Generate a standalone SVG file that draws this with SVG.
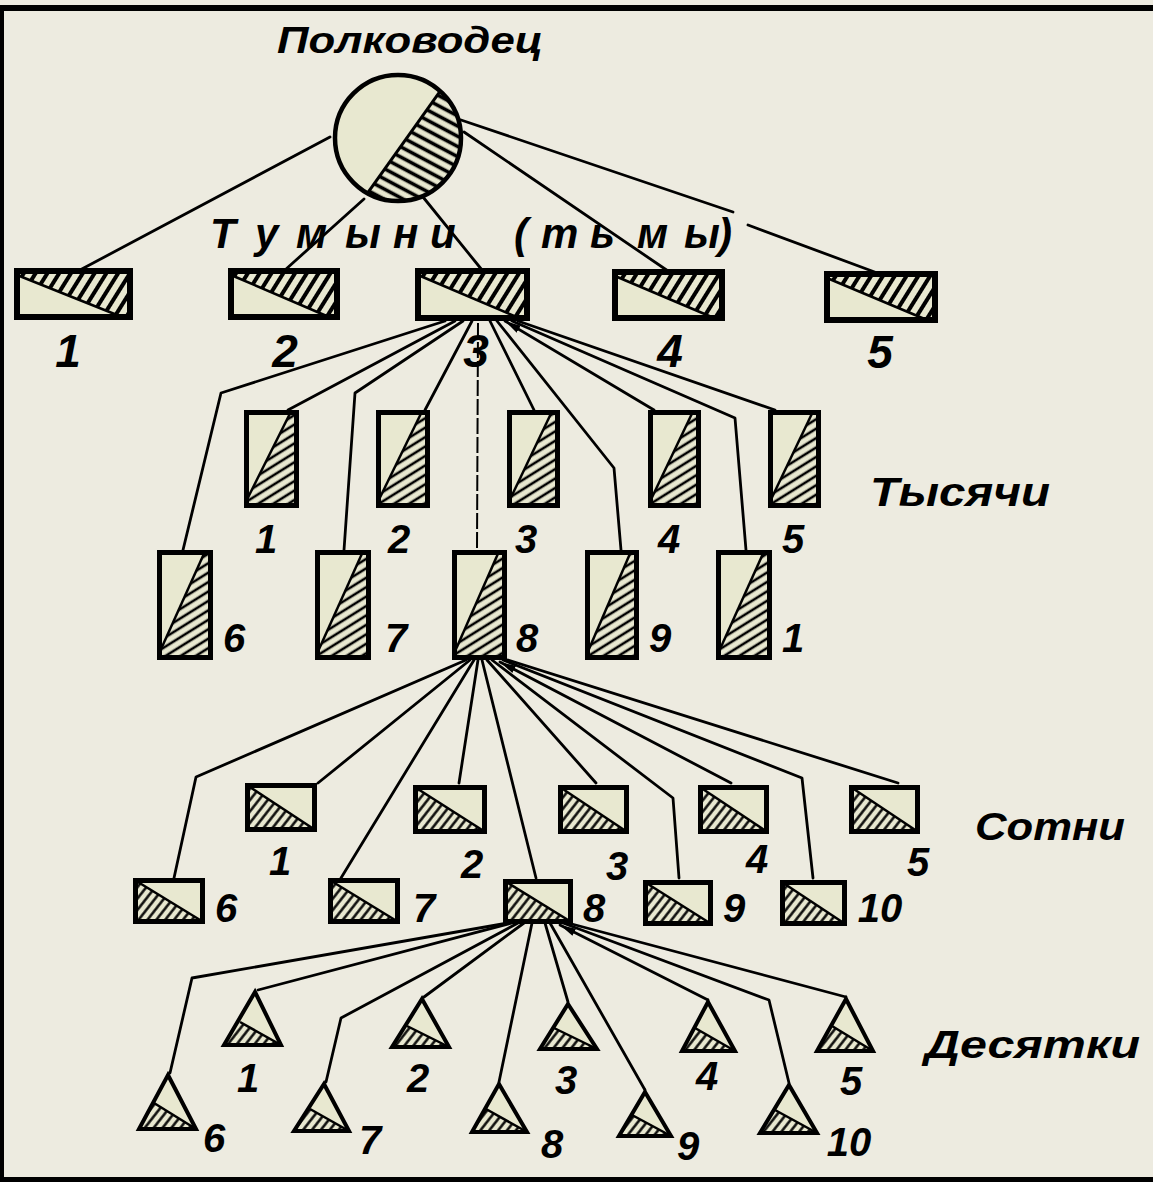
<svg xmlns="http://www.w3.org/2000/svg" width="1153" height="1182" viewBox="0 0 1153 1182">
<style>
.t{font-family:"Liberation Sans","DejaVu Sans",sans-serif;font-weight:bold;font-style:italic;fill:#000}
.c{fill:none;stroke:#000;stroke-width:2.8;stroke-linejoin:round;stroke-linecap:round}
.thin{fill:none;stroke:#000;stroke-width:2;stroke-dasharray:16 3}
.lt{fill:#e8e8d0}
.ob{fill:none;stroke:#000;stroke-width:6;stroke-linejoin:miter}
.ok{fill:none;stroke:#000;stroke-width:5}
.os{fill:none;stroke:#000;stroke-width:5}
.od{fill:none;stroke:#000;stroke-width:4;stroke-linejoin:miter}
.dg{stroke:#000;stroke-width:2.5;fill:none}
</style>
<defs>
<pattern id="hc" width="9" height="9" patternUnits="userSpaceOnUse" patternTransform="rotate(28)"><rect width="9" height="9" fill="#e8e8d0"/><line x1="0" y1="4.5" x2="9" y2="4.5" stroke="#000" stroke-width="3.6"/></pattern>
<pattern id="ht" width="10" height="10" patternUnits="userSpaceOnUse" patternTransform="rotate(32)"><rect width="10" height="10" fill="#e8e8d0"/><line x1="5" y1="0" x2="5" y2="10" stroke="#000" stroke-width="4"/></pattern>
<pattern id="hk" width="8" height="8" patternUnits="userSpaceOnUse" patternTransform="rotate(-32)"><rect width="8" height="8" fill="#e8e8d0"/><line x1="0" y1="4" x2="8" y2="4" stroke="#000" stroke-width="2.6"/></pattern>
<pattern id="hs" width="7" height="7" patternUnits="userSpaceOnUse" patternTransform="rotate(38)"><rect width="7" height="7" fill="#e8e8d0"/><line x1="3.5" y1="0" x2="3.5" y2="7" stroke="#000" stroke-width="2.4"/></pattern>
<marker id="arr" markerUnits="userSpaceOnUse" markerWidth="18" markerHeight="10" refX="16" refY="5" orient="auto-start-reverse"><path d="M0,1 L16,5 L0,9 z" fill="#000"/></marker>
</defs>
<rect width="1153" height="1182" fill="#edebe0"/>
<rect x="0" y="5" width="1153" height="6" fill="#000"/>
<rect x="0" y="5" width="4" height="1177" fill="#000"/>
<rect x="0" y="1177" width="1153" height="5" fill="#000"/>

<g id="connectors">
<path class="c" d="M330,137 L80,270"/>
<path class="c" d="M364,199 L285,270"/>
<path class="c" d="M423,197 L482,270"/>
<path class="c" d="M464,132 L668,271"/>
<path class="c" d="M461,120 L733,212"/>
<path class="c" d="M748,225 L880,274"/>

<path class="c" d="M445,321 L221,393 L183,550"/>
<path class="c" d="M455,321 L288,410"/>
<path class="c" d="M463,321 L355,393 L344,550"/>
<path class="c" d="M472,321 L425,410"/>
<path class="thin" d="M478,323 L477,550"/>
<path class="c" d="M490,321 L534,410"/>
<path class="c" d="M497,321 L614,468 L621,550"/>
<path class="c" d="M505,321 L654,410" marker-start="url(#arr)"/>
<path class="c" d="M512,321 L735,418 L746,550"/>
<path class="c" d="M518,321 L775,410"/>

<path class="c" d="M466,660 L196,777 L174,878"/>
<path class="c" d="M470,660 L318,783"/>
<path class="c" d="M474,660 L341,878"/>
<path class="c" d="M478,660 L459,783"/>
<path class="c" d="M482,660 L536,878"/>
<path class="c" d="M487,660 L596,783"/>
<path class="c" d="M492,660 L673,798 L679,878"/>
<path class="c" d="M500,662 L731,783" marker-start="url(#arr)"/>
<path class="c" d="M503,660 L802,778 L813,878"/>
<path class="c" d="M508,660 L898,783"/>

<path class="c" d="M508,923 L192,978 L170,1073"/>
<path class="c" d="M512,923 L258,990"/>
<path class="c" d="M518,923 L341,1018 L326,1082"/>
<path class="c" d="M524,923 L424,997"/>
<path class="c" d="M532,923 L499,1082"/>
<path class="c" d="M545,923 L568,1002"/>
<path class="c" d="M550,923 L645,1090"/>
<path class="c" d="M560,925 L708,1000" marker-start="url(#arr)"/>
<path class="c" d="M563,923 L769,1000 L789,1083"/>
<path class="c" d="M568,923 L846,997"/>
</g>

<g id="commander">
<text class="t" x="277" y="53" font-size="36" textLength="266" lengthAdjust="spacingAndGlyphs">Полководец</text>
<circle cx="398" cy="138" r="63" class="lt"/>
<path d="M440.2,91.2 A63,63 0 0 1 367.5,193.1 Z" fill="url(#hc)"/>
<line x1="440.2" y1="91.2" x2="367.5" y2="193.1" stroke="#000" stroke-width="3"/>
<circle cx="398" cy="138" r="63" fill="none" stroke="#000" stroke-width="4.5"/>
</g>

<g id="tumen-label">
<text class="t" y="248" font-size="42" x="210 255 296 345 393 430 470 514 541 590 637 684 718">Тумыни (тьмы)</text>
</g>

<g id="tumen-1"><rect x="17" y="271" width="113" height="46" class="lt"/><polygon points="17,271 130,271 130,317 122,317 17,275" fill="url(#ht)"/><line class="dg" x1="17" y1="275" x2="122" y2="317"/><rect x="17" y="271" width="113" height="46" class="ob"/><text class="t" x="68" y="367" font-size="46" text-anchor="middle">1</text></g>
<g id="tumen-2"><rect x="231" y="271" width="106" height="46" class="lt"/><polygon points="231,271 337,271 337,317 329,317 231,275" fill="url(#ht)"/><line class="dg" x1="231" y1="275" x2="329" y2="317"/><rect x="231" y="271" width="106" height="46" class="ob"/><text class="t" x="285" y="367" font-size="46" text-anchor="middle">2</text></g>
<g id="tumen-3"><rect x="418" y="271" width="109" height="47" class="lt"/><polygon points="418,271 527,271 527,318 519,318 418,275" fill="url(#ht)"/><line class="dg" x1="418" y1="275" x2="519" y2="318"/><rect x="418" y="271" width="109" height="47" class="ob"/><text class="t" x="476" y="367" font-size="46" text-anchor="middle">3</text></g>
<g id="tumen-4"><rect x="615" y="272" width="107" height="46" class="lt"/><polygon points="615,272 722,272 722,318 714,318 615,276" fill="url(#ht)"/><line class="dg" x1="615" y1="276" x2="714" y2="318"/><rect x="615" y="272" width="107" height="46" class="ob"/><text class="t" x="670" y="367" font-size="46" text-anchor="middle">4</text></g>
<g id="tumen-5"><rect x="827" y="274" width="108" height="46" class="lt"/><polygon points="827,274 935,274 935,320 927,320 827,278" fill="url(#ht)"/><line class="dg" x1="827" y1="278" x2="927" y2="320"/><rect x="827" y="274" width="108" height="46" class="ob"/><text class="t" x="880" y="368" font-size="46" text-anchor="middle">5</text></g>

<g id="thousand-label"><text class="t" x="870" y="506" font-size="40" textLength="180" lengthAdjust="spacingAndGlyphs">Тысячи</text></g>

<g id="thousand-1"><rect x="246.5" y="412.5" width="50" height="93" class="lt"/><polygon points="290.5,412.5 296.5,412.5 296.5,505.5 246.5,505.5 246.5,500.5" fill="url(#hk)"/><line class="dg" x1="290.5" y1="412.5" x2="246.5" y2="500.5"/><rect x="246.5" y="412.5" width="50" height="93" class="ok"/><text class="t" x="266" y="553" font-size="40" text-anchor="middle">1</text></g>
<g id="thousand-2"><rect x="378.5" y="412.5" width="49" height="93" class="lt"/><polygon points="421.5,412.5 427.5,412.5 427.5,505.5 378.5,505.5 378.5,500.5" fill="url(#hk)"/><line class="dg" x1="421.5" y1="412.5" x2="378.5" y2="500.5"/><rect x="378.5" y="412.5" width="49" height="93" class="ok"/><text class="t" x="399" y="553" font-size="40" text-anchor="middle">2</text></g>
<g id="thousand-3"><rect x="509.5" y="412.5" width="48" height="93" class="lt"/><polygon points="551.5,412.5 557.5,412.5 557.5,505.5 509.5,505.5 509.5,500.5" fill="url(#hk)"/><line class="dg" x1="551.5" y1="412.5" x2="509.5" y2="500.5"/><rect x="509.5" y="412.5" width="48" height="93" class="ok"/><text class="t" x="526" y="553" font-size="40" text-anchor="middle">3</text></g>
<g id="thousand-4"><rect x="650.5" y="412.5" width="48" height="93" class="lt"/><polygon points="692.5,412.5 698.5,412.5 698.5,505.5 650.5,505.5 650.5,500.5" fill="url(#hk)"/><line class="dg" x1="692.5" y1="412.5" x2="650.5" y2="500.5"/><rect x="650.5" y="412.5" width="48" height="93" class="ok"/><text class="t" x="669" y="553" font-size="40" text-anchor="middle">4</text></g>
<g id="thousand-5"><rect x="770.5" y="412.5" width="48" height="93" class="lt"/><polygon points="812.5,412.5 818.5,412.5 818.5,505.5 770.5,505.5 770.5,500.5" fill="url(#hk)"/><line class="dg" x1="812.5" y1="412.5" x2="770.5" y2="500.5"/><rect x="770.5" y="412.5" width="48" height="93" class="ok"/><text class="t" x="793" y="553" font-size="40" text-anchor="middle">5</text></g>

<g id="thousand-6"><rect x="159.5" y="552.5" width="51" height="105" class="lt"/><polygon points="204.5,552.5 210.5,552.5 210.5,657.5 159.5,657.5 159.5,652.5" fill="url(#hk)"/><line class="dg" x1="204.5" y1="552.5" x2="159.5" y2="652.5"/><rect x="159.5" y="552.5" width="51" height="105" class="ok"/><text class="t" x="234" y="652" font-size="40" text-anchor="middle">6</text></g>
<g id="thousand-7"><rect x="317.5" y="552.5" width="51" height="105" class="lt"/><polygon points="362.5,552.5 368.5,552.5 368.5,657.5 317.5,657.5 317.5,652.5" fill="url(#hk)"/><line class="dg" x1="362.5" y1="552.5" x2="317.5" y2="652.5"/><rect x="317.5" y="552.5" width="51" height="105" class="ok"/><text class="t" x="396" y="652" font-size="40" text-anchor="middle">7</text></g>
<g id="thousand-8"><rect x="454.5" y="552.5" width="50" height="105" class="lt"/><polygon points="498.5,552.5 504.5,552.5 504.5,657.5 454.5,657.5 454.5,652.5" fill="url(#hk)"/><line class="dg" x1="498.5" y1="552.5" x2="454.5" y2="652.5"/><rect x="454.5" y="552.5" width="50" height="105" class="ok"/><text class="t" x="527" y="652" font-size="40" text-anchor="middle">8</text></g>
<g id="thousand-9"><rect x="587.5" y="552.5" width="49" height="105" class="lt"/><polygon points="630.5,552.5 636.5,552.5 636.5,657.5 587.5,657.5 587.5,652.5" fill="url(#hk)"/><line class="dg" x1="630.5" y1="552.5" x2="587.5" y2="652.5"/><rect x="587.5" y="552.5" width="49" height="105" class="ok"/><text class="t" x="660" y="652" font-size="40" text-anchor="middle">9</text></g>
<g id="thousand-10"><rect x="718.5" y="552.5" width="51" height="105" class="lt"/><polygon points="763.5,552.5 769.5,552.5 769.5,657.5 718.5,657.5 718.5,652.5" fill="url(#hk)"/><line class="dg" x1="763.5" y1="552.5" x2="718.5" y2="652.5"/><rect x="718.5" y="552.5" width="51" height="105" class="ok"/><text class="t" x="793" y="652" font-size="40" text-anchor="middle">1</text></g>

<g id="hundred-label"><text class="t" x="975" y="840" font-size="38" textLength="150" lengthAdjust="spacingAndGlyphs">Сотни</text></g>

<g id="hundred-1"><rect x="247.5" y="785.5" width="67" height="44" class="lt"/><polygon points="247.5,785.5 314.5,829.5 247.5,829.5" fill="url(#hs)"/><line class="dg" x1="247.5" y1="785.5" x2="314.5" y2="829.5"/><rect x="247.5" y="785.5" width="67" height="44" class="os"/><text class="t" x="280" y="875" font-size="40" text-anchor="middle">1</text></g>
<g id="hundred-2"><rect x="415.5" y="787.5" width="69" height="44" class="lt"/><polygon points="415.5,787.5 484.5,831.5 415.5,831.5" fill="url(#hs)"/><line class="dg" x1="415.5" y1="787.5" x2="484.5" y2="831.5"/><rect x="415.5" y="787.5" width="69" height="44" class="os"/><text class="t" x="472" y="878" font-size="40" text-anchor="middle">2</text></g>
<g id="hundred-3"><rect x="560.5" y="787.5" width="66" height="44" class="lt"/><polygon points="560.5,787.5 626.5,831.5 560.5,831.5" fill="url(#hs)"/><line class="dg" x1="560.5" y1="787.5" x2="626.5" y2="831.5"/><rect x="560.5" y="787.5" width="66" height="44" class="os"/><text class="t" x="617" y="880" font-size="40" text-anchor="middle">3</text></g>
<g id="hundred-4"><rect x="700.5" y="787.5" width="66" height="44" class="lt"/><polygon points="700.5,787.5 766.5,831.5 700.5,831.5" fill="url(#hs)"/><line class="dg" x1="700.5" y1="787.5" x2="766.5" y2="831.5"/><rect x="700.5" y="787.5" width="66" height="44" class="os"/><text class="t" x="757" y="873" font-size="40" text-anchor="middle">4</text></g>
<g id="hundred-5"><rect x="851.5" y="787.5" width="66" height="44" class="lt"/><polygon points="851.5,787.5 917.5,831.5 851.5,831.5" fill="url(#hs)"/><line class="dg" x1="851.5" y1="787.5" x2="917.5" y2="831.5"/><rect x="851.5" y="787.5" width="66" height="44" class="os"/><text class="t" x="918" y="876" font-size="40" text-anchor="middle">5</text></g>

<g id="hundred-6"><rect x="135.5" y="880.5" width="67" height="41" class="lt"/><polygon points="135.5,880.5 202.5,921.5 135.5,921.5" fill="url(#hs)"/><line class="dg" x1="135.5" y1="880.5" x2="202.5" y2="921.5"/><rect x="135.5" y="880.5" width="67" height="41" class="os"/><text class="t" x="226" y="922" font-size="40" text-anchor="middle">6</text></g>
<g id="hundred-7"><rect x="330.5" y="880.5" width="67" height="41" class="lt"/><polygon points="330.5,880.5 397.5,921.5 330.5,921.5" fill="url(#hs)"/><line class="dg" x1="330.5" y1="880.5" x2="397.5" y2="921.5"/><rect x="330.5" y="880.5" width="67" height="41" class="os"/><text class="t" x="424" y="922" font-size="40" text-anchor="middle">7</text></g>
<g id="hundred-8"><rect x="505.5" y="881.5" width="65" height="40" class="lt"/><polygon points="505.5,881.5 570.5,921.5 505.5,921.5" fill="url(#hs)"/><line class="dg" x1="505.5" y1="881.5" x2="570.5" y2="921.5"/><rect x="505.5" y="881.5" width="65" height="40" class="os"/><text class="t" x="594" y="922" font-size="40" text-anchor="middle">8</text></g>
<g id="hundred-9"><rect x="645.5" y="882.5" width="65" height="41" class="lt"/><polygon points="645.5,882.5 710.5,923.5 645.5,923.5" fill="url(#hs)"/><line class="dg" x1="645.5" y1="882.5" x2="710.5" y2="923.5"/><rect x="645.5" y="882.5" width="65" height="41" class="os"/><text class="t" x="734" y="922" font-size="40" text-anchor="middle">9</text></g>
<g id="hundred-10"><rect x="782.5" y="882.5" width="62" height="41" class="lt"/><polygon points="782.5,882.5 844.5,923.5 782.5,923.5" fill="url(#hs)"/><line class="dg" x1="782.5" y1="882.5" x2="844.5" y2="923.5"/><rect x="782.5" y="882.5" width="62" height="41" class="os"/><text class="t" x="880" y="922" font-size="40" text-anchor="middle">10</text></g>

<g id="ten-label"><text class="t" x="925" y="1058" font-size="38" textLength="215" lengthAdjust="spacingAndGlyphs">Десятки</text></g>

<g id="ten-1"><polygon points="255,992 281,1045 224,1045" class="lt"/><polygon points="240,1022 281,1045 224,1045" fill="url(#hs)"/><line class="dg" x1="240" y1="1022" x2="281" y2="1045"/><polygon points="255,992 281,1045 224,1045" class="od"/><text class="t" x="248" y="1092" font-size="40" text-anchor="middle">1</text></g>
<g id="ten-2"><polygon points="422,999 449,1047 392,1047" class="lt"/><polygon points="407,1026 449,1047 392,1047" fill="url(#hs)"/><line class="dg" x1="407" y1="1026" x2="449" y2="1047"/><polygon points="422,999 449,1047 392,1047" class="od"/><text class="t" x="418" y="1092" font-size="40" text-anchor="middle">2</text></g>
<g id="ten-3"><polygon points="568,1004 597,1049 540,1049" class="lt"/><polygon points="554,1028 597,1049 540,1049" fill="url(#hs)"/><line class="dg" x1="554" y1="1028" x2="597" y2="1049"/><polygon points="568,1004 597,1049 540,1049" class="od"/><text class="t" x="566" y="1094" font-size="40" text-anchor="middle">3</text></g>
<g id="ten-4"><polygon points="708,1002 735,1051 682,1051" class="lt"/><polygon points="695,1028 735,1051 682,1051" fill="url(#hs)"/><line class="dg" x1="695" y1="1028" x2="735" y2="1051"/><polygon points="708,1002 735,1051 682,1051" class="od"/><text class="t" x="707" y="1090" font-size="40" text-anchor="middle">4</text></g>
<g id="ten-5"><polygon points="846,999 873,1051 817,1051" class="lt"/><polygon points="832,1026 873,1051 817,1051" fill="url(#hs)"/><line class="dg" x1="832" y1="1026" x2="873" y2="1051"/><polygon points="846,999 873,1051 817,1051" class="od"/><text class="t" x="851" y="1095" font-size="40" text-anchor="middle">5</text></g>

<g id="ten-6"><polygon points="168,1075 196,1129 139,1129" class="lt"/><polygon points="154,1103 196,1129 139,1129" fill="url(#hs)"/><line class="dg" x1="154" y1="1103" x2="196" y2="1129"/><polygon points="168,1075 196,1129 139,1129" class="od"/><text class="t" x="214" y="1152" font-size="40" text-anchor="middle">6</text></g>
<g id="ten-7"><polygon points="324,1084 349,1131 294,1131" class="lt"/><polygon points="310,1109 349,1131 294,1131" fill="url(#hs)"/><line class="dg" x1="310" y1="1109" x2="349" y2="1131"/><polygon points="324,1084 349,1131 294,1131" class="od"/><text class="t" x="370" y="1154" font-size="40" text-anchor="middle">7</text></g>
<g id="ten-8"><polygon points="499,1084 527,1132 472,1132" class="lt"/><polygon points="486,1109 527,1132 472,1132" fill="url(#hs)"/><line class="dg" x1="486" y1="1109" x2="527" y2="1132"/><polygon points="499,1084 527,1132 472,1132" class="od"/><text class="t" x="552" y="1158" font-size="40" text-anchor="middle">8</text></g>
<g id="ten-9"><polygon points="645,1092 671,1136 619,1136" class="lt"/><polygon points="632,1115 671,1136 619,1136" fill="url(#hs)"/><line class="dg" x1="632" y1="1115" x2="671" y2="1136"/><polygon points="645,1092 671,1136 619,1136" class="od"/><text class="t" x="688" y="1160" font-size="40" text-anchor="middle">9</text></g>
<g id="ten-10"><polygon points="789,1085 817,1133 760,1133" class="lt"/><polygon points="775,1110 817,1133 760,1133" fill="url(#hs)"/><line class="dg" x1="775" y1="1110" x2="817" y2="1133"/><polygon points="789,1085 817,1133 760,1133" class="od"/><text class="t" x="849" y="1156" font-size="40" text-anchor="middle">10</text></g>
</svg>
